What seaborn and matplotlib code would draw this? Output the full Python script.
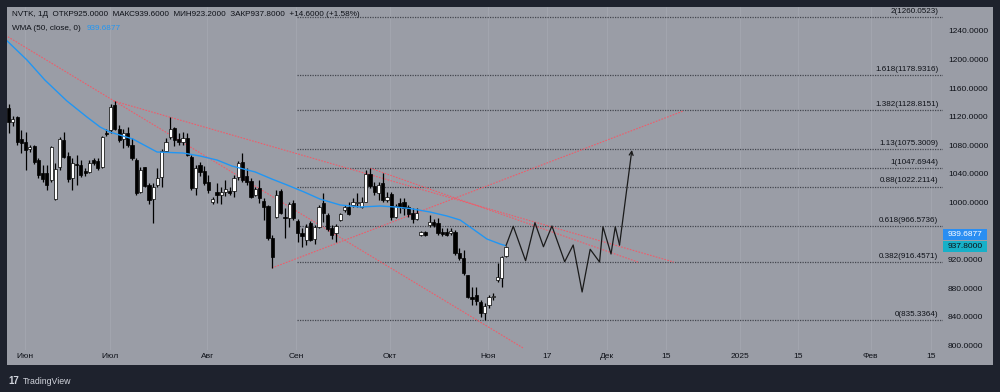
import numpy as np
import pandas as pd
import matplotlib
matplotlib.use("Agg")
import matplotlib.pyplot as plt
from matplotlib.patches import Rectangle
import seaborn as sns

# ---------------- data ----------------
opens = [1132, 1113, 1120, 1089, 1085, 1075, 1079, 1059, 1041, 1041,
         1031, 1005, 1050, 1087, 1065, 1034, 1054, 1052, 1044, 1043,
         1059, 1058, 1050, 1097, 1101, 1136, 1103, 1089, 1097, 1080,
         1059, 1015, 1050, 1024, 1005, 1024, 1036, 1072, 1092, 1104,
         1089, 1085, 1090, 1063, 1020, 1052, 1044, 1029, 1001, 1015,
         1010, 1015, 1016, 1016, 1036, 1057, 1037, 1030, 1010, 1020,
         1002, 995, 950, 980, 1016, 980, 978, 999, 974, 957,
         947, 971, 949, 966, 999, 982, 964, 957, 975, 989,
         994, 996, 999, 994, 1001, 1040, 1023, 1013, 1027, 1003,
         1012, 980, 999, 1001, 994, 985, 977, 954, 958, 968,
         973, 971, 958, 958, 957, 958, 929, 922, 898, 868,
         870, 861, 845, 857, 868, 891, 894, 925]
highs = [1138, 1121, 1121, 1101, 1099, 1080, 1080, 1062, 1052, 1052,
         1079, 1055, 1092, 1099, 1071, 1062, 1066, 1059, 1048, 1059,
         1062, 1062, 1093, 1103, 1138, 1142, 1108, 1103, 1106, 1090,
         1062, 1050, 1050, 1027, 1027, 1048, 1075, 1090, 1120, 1106,
         1097, 1099, 1097, 1066, 1052, 1057, 1051, 1038, 1008, 1027,
         1022, 1031, 1022, 1038, 1058, 1069, 1048, 1034, 1022, 1031,
         1006, 997, 954, 1017, 1019, 992, 1001, 1003, 977, 964,
         970, 974, 968, 996, 1013, 985, 968, 970, 985, 996,
         1001, 1006, 1013, 1008, 1045, 1048, 1029, 1029, 1041, 1015,
         1015, 998, 1006, 1006, 996, 992, 992, 960, 960, 982,
         977, 978, 964, 964, 964, 961, 936, 933, 899, 882,
         882, 863, 859, 870, 873, 915, 925, 939.6]
lows = [1097, 1107, 1080, 1069, 1045, 1071, 1054, 1034, 1029, 1017,
        1029, 1003, 1045, 1062, 1029, 1017, 1024, 1036, 1037, 1041,
        1052, 1045, 1048, 1093, 1097, 1101, 1085, 1076, 1078, 1059,
        1010, 1013, 1022, 998, 971, 1022, 1022, 1071, 1089, 1079,
        1080, 1080, 1065, 1017, 1010, 1037, 1024, 1013, 998, 999,
        998, 1009, 1010, 1008, 1031, 1029, 1024, 1006, 1009, 999,
        975, 947, 908, 978, 984, 950, 966, 975, 945, 938,
        940, 946, 942, 964, 973, 960, 949, 945, 974, 987,
        982, 994, 994, 992, 1000, 1020, 1010, 1003, 1001, 1001,
        975, 978, 985, 982, 980, 971, 975, 953, 953, 966,
        966, 954, 953, 953, 954, 926, 919, 898, 866, 856,
        856, 839, 836, 852, 863, 889, 882, 923.2]
closes = [1113, 1117, 1085, 1083, 1073, 1078, 1057, 1038, 1033, 1024,
          1078, 1047, 1089, 1063, 1033, 1055, 1052, 1038, 1041, 1055,
          1055, 1048, 1092, 1096, 1134, 1103, 1087, 1097, 1080, 1062,
          1013, 1045, 1023, 1003, 1022, 1034, 1072, 1085, 1103, 1087,
          1085, 1090, 1066, 1020, 1048, 1043, 1027, 1017, 1005, 1010,
          1015, 1019, 1013, 1034, 1055, 1031, 1029, 1008, 1019, 1006,
          994, 950, 924, 1010, 985, 978, 998, 978, 957, 953,
          966, 947, 966, 994, 985, 963, 954, 967, 984, 994,
          984, 1001, 1001, 1001, 1040, 1023, 1015, 1024, 1003, 1008,
          980, 995, 994, 992, 984, 977, 985, 958, 954, 973,
          968, 957, 956, 955, 960, 929, 922, 901, 867, 865,
          862, 845, 855, 868, 869, 895, 924, 937.8]

# WMA(50) line (bar index, value)
wma_idx = [-0.6, 4.3, 8.5, 13.7, 18.4, 21.5, 23.8, 29.2, 34.9, 41.0,
           45.0, 49.0, 52.5, 58.0, 61.9, 65.5, 69.5, 73.2, 78.0, 82.7,
           87.4, 90.9, 94.4, 99.1, 103.1, 106.2, 109.2, 112.5, 115.6, 116.8]
wma_val = [1227.4, 1199.4, 1171.4, 1142.0, 1119.6, 1105.6, 1098.6, 1088.8, 1070.6, 1069.2,
           1065.0, 1059.4, 1051.0, 1042.6, 1032.8, 1024.4, 1014.6, 1004.8, 996.4, 993.6,
           995.0, 993.6, 991.5, 986.6, 981.0, 975.4, 962.8, 948.8, 941.8, 939.69]

# Fibonacci extension levels
fib_names = ["0", "0.382", "0.618", "0.88", "1", "1.13", "1.382", "1.618", "2"]
fib_vals = [835.3364, 916.4571, 966.5736, 1022.2114, 1047.6944, 1075.3009,
            1128.8151, 1178.9316, 1260.0523]
fib_start = 67.8

# trend lines (bar index pairs, price pairs)
trend_idx = [[-2, 121.0], [24.7, 156.5], [85.1, 148.2], [61.9, 158.7]]
trend_val = [[1238.4, 796.3], [1142.0, 916.5], [1047.8, 916.2], [908.2, 1128.0]]

# projected path
zz_idx = [117, 118.7, 121.6, 123.8, 125.8, 127.8, 130.8, 132.8, 134.9, 136.8,
          139.0, 139.8, 141.7, 142.7, 143.7]
zz_val = [939.6, 966.6, 918.4, 971.6, 938.0, 967.0, 917.0, 940.4, 874.6, 934.4,
          916.6, 966.0, 927.8, 966.0, 940.4]
arrow_tip = (146.6, 1073.4)

# axes labels
xtick_pos = [3.8, 23.8, 46.7, 67.7, 89.7, 112.8, 126.7, 140.8, 154.7, 172.1, 185.7, 202.8, 217.0]
xtick_lab = ["Июн", "Июл", "Авг", "Сен", "Окт", "Ноя", "17", "Дек", "15", "2025", "15", "Фев", "15"]
ytick_vals = list(range(800, 1241, 40))

header = "NVTK, 1Д  ОТКР925.0000  МАКС939.6000  МИН923.2000  ЗАКР937.8000  +14.6000 (+1.58%)"
wma_label = "WMA (50, close, 0)"
wma_last = 939.6877
last_close = 937.8

# ---------------- style ----------------
sns.set_theme(style="white")
plt.rcParams['font.family'] = ['Liberation Sans', 'DejaVu Sans']

BG = "#9a9da6"
DARK = "#1e222d"
TXT = "#0e1118"
BLUE = "#2196f3"
RED = "#ef5c6a"
FIBC = "#44474f"
FS = 6.0

W, H = 1000, 392
fig = plt.figure(figsize=(W / 100, H / 100), dpi=100, facecolor=DARK)
fig.add_artist(Rectangle((7 / W, 1 - 365 / H), 986 / W, 358 / H, transform=fig.transFigure,
                         facecolor=BG, edgecolor="none", zorder=0))
ax = fig.add_axes([7 / W, 1 - 350 / H, 936 / W, 343 / H])
ax.set_facecolor(BG)

ax.set_xlim(-0.4, 219.8)
ax.set_ylim(793.4, 1273.6)

# ticks / grid
ax.set_xticks(xtick_pos)
ax.set_xticklabels(xtick_lab)
ax.set_yticks(ytick_vals)
ax.set_yticklabels([f"{v:.4f}" for v in ytick_vals])
ax.xaxis.grid(True, color="#a4a7b0", lw=0.6, zorder=0)
ax.yaxis.grid(False)
ax.yaxis.tick_right()
ax.tick_params(axis="x", length=0, pad=2.2, labelsize=FS, labelcolor=TXT)
ax.tick_params(axis="y", length=0, pad=3.6, labelsize=FS, labelcolor=TXT)
for s in ax.spines.values():
    s.set_visible(False)

# fib levels
ax.hlines(fib_vals, fib_start, 219.8, colors=FIBC, linestyles=(0, (1, 1)), lw=0.9, zorder=2)
for n, v in zip(fib_names, fib_vals):
    ax.annotate(f"{n}({v:.4f})", xy=(218.7, v), xytext=(0, 1.5), textcoords="offset points",
                ha="right", va="bottom", fontsize=5.8, color=TXT, zorder=6)

# trend lines
for ti, tv in zip(trend_idx, trend_val):
    sns.lineplot(x=ti, y=tv, ax=ax, color=RED, lw=0.8, linestyle=(0, (1.5, 1.2)),
                 sort=False, estimator=None, zorder=3)

# candles
idx = np.arange(len(opens))
o = np.array(opens, float); h = np.array(highs, float)
l = np.array(lows, float); c = np.array(closes, float)
ax.vlines(idx, l, h, color="black", lw=0.9, zorder=4)
up = c >= o
bottoms = np.minimum(o, c)
heights = np.maximum(np.abs(c - o), 1.2)
ax.bar(idx[up], heights[up], bottom=bottoms[up], width=0.72, color="white",
       edgecolor="black", lw=0.5, zorder=5)
ax.bar(idx[~up], heights[~up], bottom=bottoms[~up], width=0.72, color="black",
       edgecolor="black", lw=0.5, zorder=5)

# WMA
sns.lineplot(x=wma_idx, y=wma_val, ax=ax, color=BLUE, lw=1.0, sort=False, estimator=None, zorder=6)

# projected zigzag
sns.lineplot(x=zz_idx, y=zz_val, ax=ax, color="#1a1a1a", lw=0.9, sort=False, estimator=None, zorder=6)
ax.annotate("", xy=arrow_tip, xytext=(zz_idx[-1], zz_val[-1]),
            arrowprops=dict(arrowstyle="->", color="#1a1a1a", lw=0.9, shrinkA=0, shrinkB=0,
                            mutation_scale=7), zorder=6)

# header texts
fig.text(12 / W, 1 - 14 / H, header, fontsize=5.9, color=TXT, va="center", ha="left")
fig.text(12 / W, 1 - 28 / H, wma_label, fontsize=5.9, color=TXT, va="center", ha="left")
fig.text(87 / W, 1 - 28 / H, f"{wma_last:.4f}", fontsize=5.9, color=BLUE, va="center", ha="left")

# price tags on the scale
fig.add_artist(Rectangle((943 / W, 1 - 240 / H), 44 / W, 11 / H, transform=fig.transFigure,
                         facecolor="#2a8ef2", edgecolor="none", zorder=10))
fig.text(965 / W, 1 - 234.5 / H, f"{wma_last:.4f}", fontsize=FS, color="white",
         ha="center", va="center", zorder=11)
fig.add_artist(Rectangle((943 / W, 1 - 252 / H), 44 / W, 11 / H, transform=fig.transFigure,
                         facecolor="#17b0c8", edgecolor="none", zorder=10))
fig.text(965 / W, 1 - 246.5 / H, f"{last_close:.4f}", fontsize=FS, color=TXT,
         ha="center", va="center", zorder=11)

# footer
fig.text(8 / W, 1 - 381 / H, "17", fontsize=7, color="#d1d4dc", fontweight="bold",
         va="center", ha="left")
fig.text(23 / W, 1 - 381 / H, "TradingView", fontsize=6.3, color="#d1d4dc", va="center", ha="left")

fig.savefig("out.png", dpi=100, facecolor=DARK)
